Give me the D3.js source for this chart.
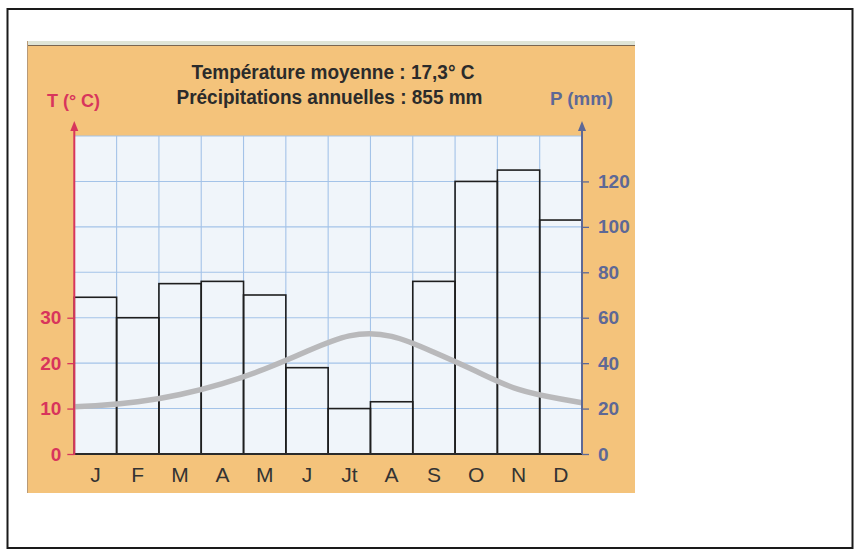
<!DOCTYPE html>
<html>
<head lang="fr">
    <meta charset="UTF-8">
    <title> Climogramme </title>
    <script type="text/javascript" src="https://cdn.jsdelivr.net/npm/d3@7/dist/d3.min.js"></script>
    <style>
        body { margin: 0; background: #fff; }
        text { font-family: "Liberation Sans", "Open Sans", sans-serif; }
    </style>
</head>
<body>
<div id="chart"></div>

<script>

    // données
    var months   = ["J", "F", "M", "A", "M", "J", "Jt", "A", "S", "O", "N", "D"];
    var precip   = [69, 60, 75, 76, 70, 38, 20, 23, 76, 120, 125, 103];        // mm
    var temp     = [10.6, 11.5, 13.1, 15.5, 18.7, 22.6, 26.0, 25.9, 22.4, 18.2, 14.2, 12.1]; // °C, milieu du mois
    var tEdges   = [10.4, 11.3];   // valeur de la courbe sur les deux axes
    var tTicks   = [0, 10, 20, 30];
    var pTicks   = [0, 20, 40, 60, 80, 100, 120];
    var titles   = ["Température moyenne : 17,3° C", "Précipitations annuelles : 855 mm"];

    var W = 861, H = 556;
    var x0 = 74.3, x1 = 582, yBase = 454, yTop = 136;

    var svg = d3.select("#chart").append("svg")
            .attr("width", W)
            .attr("height", H);

    // cadre extérieur
    svg.append("rect")
            .attr("x", 7.5).attr("y", 9)
            .attr("width", 845).attr("height", 539)
            .style("fill", "#fff")
            .style("stroke", "#1a1a1a")
            .style("stroke-width", 2);

    // fond orange
    svg.append("rect")
            .attr("x", 27).attr("y", 41).attr("width", 608).attr("height", 5)
            .style("fill", "#dfe4d6");
    svg.append("rect")
            .attr("x", 27).attr("y", 45).attr("width", 608).attr("height", 448)
            .style("fill", "#f4c37b");
    svg.append("line")
            .attr("x1", 27).attr("x2", 635).attr("y1", 45.5).attr("y2", 45.5)
            .style("stroke", "#7a6650").style("stroke-width", 1);
    svg.append("line")
            .attr("x1", 27.5).attr("x2", 27.5).attr("y1", 41).attr("y2", 493)
            .style("stroke", "#b89a78").style("stroke-width", 1);

    // scales
    var xPos = d3.scaleLinear().domain([0, 12]).range([x0, x1]);
    var xBand = d3.scaleBand().domain(d3.range(12)).range([x0, x1]).padding(0);
    var yP = d3.scaleLinear().domain([0, 140]).range([yBase, yTop]);
    var yT = d3.scaleLinear().domain([0, 70]).range([yBase, yTop]);

    // zone du graphique
    svg.append("rect")
            .attr("x", x0).attr("y", yTop)
            .attr("width", x1 - x0).attr("height", yBase - yTop)
            .style("fill", "#f0f5fa");

    // quadrillage
    var grid = svg.append("g").attr("class", "grid");
    grid.selectAll("line.h")
            .data(d3.range(20, 141, 20)).enter().append("line")
            .attr("x1", x0).attr("x2", x1)
            .attr("y1", function(d) { return yP(d); })
            .attr("y2", function(d) { return yP(d); })
            .style("stroke", "#a4c3e8").style("stroke-width", 1.1);
    grid.selectAll("line.v")
            .data(d3.range(1, 12)).enter().append("line")
            .attr("x1", function(d) { return xPos(d); })
            .attr("x2", function(d) { return xPos(d); })
            .attr("y1", yTop).attr("y2", yBase)
            .style("stroke", "#a4c3e8").style("stroke-width", 1.1);

    // barres de précipitations
    svg.append("g").selectAll("rect")
            .data(precip).enter().append("rect")
            .attr("x", function(d, i) { return xBand(i); })
            .attr("y", function(d) { return yP(d); })
            .attr("width", xBand.bandwidth())
            .attr("height", function(d) { return yBase - yP(d); })
            .style("fill", "none")
            .style("stroke", "#1e1e1e")
            .style("stroke-width", 1.6);

    // courbe des températures
    var pts = [[0, tEdges[0]]];
    temp.forEach(function(t, i) { pts.push([i + 0.5, t]); });
    pts.push([12, tEdges[1]]);

    var line = d3.line()
            .x(function(d) { return xPos(d[0]); })
            .y(function(d) { return yT(d[1]); })
            .curve(d3.curveNatural);

    svg.append("path")
            .datum(pts)
            .attr("d", line)
            .style("fill", "none")
            .style("stroke", "#b9b9bb")
            .style("stroke-width", 5.5)
            .style("stroke-linecap", "butt");

    // ligne de base
    svg.append("line")
            .attr("x1", x0).attr("x2", x1)
            .attr("y1", yBase).attr("y2", yBase)
            .style("stroke", "#2a2a2a").style("stroke-width", 2);

    // axe gauche (T)
    var red = "#d8355c";
    var axL = svg.append("g")
            .attr("transform", "translate(" + x0 + ",0)")
            .call(d3.axisLeft(yT).tickValues(tTicks).tickSize(7).tickPadding(6).tickSizeOuter(0));
    axL.select(".domain").remove();
    axL.selectAll(".tick line").style("stroke", red).style("stroke-width", 1.3);
    axL.selectAll(".tick text")
            .style("fill", red).style("font-size", "19px").style("font-weight", "bold")
            .style("font-family", "'Liberation Sans', sans-serif");

    svg.append("line")
            .attr("x1", x0).attr("x2", x0)
            .attr("y1", yBase + 1).attr("y2", yTop - 8)
            .style("stroke", red).style("stroke-width", 2);
    svg.append("path")
            .attr("d", "M" + x0 + "," + (yTop - 15) + " L" + (x0 - 4) + "," + (yTop - 5) + " L" + (x0 + 4) + "," + (yTop - 5) + "Z")
            .style("fill", red);

    // axe droit (P)
    var blue = "#5d6896";
    var axR = svg.append("g")
            .attr("transform", "translate(" + x1 + ",0)")
            .call(d3.axisRight(yP).tickValues(pTicks).tickSize(7).tickPadding(9).tickSizeOuter(0));
    axR.select(".domain").remove();
    axR.selectAll(".tick line").style("stroke", blue).style("stroke-width", 1.3);
    axR.selectAll(".tick text")
            .style("fill", blue).style("font-size", "19px").style("font-weight", "bold")
            .style("font-family", "'Liberation Sans', sans-serif");

    svg.append("line")
            .attr("x1", x1).attr("x2", x1)
            .attr("y1", yBase).attr("y2", yTop - 8)
            .style("stroke", blue).style("stroke-width", 2);
    svg.append("path")
            .attr("d", "M" + x1 + "," + (yTop - 15) + " L" + (x1 - 4) + "," + (yTop - 5) + " L" + (x1 + 4) + "," + (yTop - 5) + "Z")
            .style("fill", blue);

    // mois
    var axB = svg.append("g")
            .attr("transform", "translate(0," + yBase + ")")
            .call(d3.axisBottom(xBand).tickSize(0).tickFormat(function(i) { return months[i]; }));
    axB.select(".domain").remove();
    axB.selectAll(".tick text")
            .attr("y", 28).attr("dy", 0)
            .style("fill", "#333").style("font-size", "21px")
            .style("font-family", "'Liberation Sans', sans-serif");

    // titres
    svg.append("text")
            .attr("x", 191.5).attr("y", 78.5)
            .attr("textLength", 283).attr("lengthAdjust", "spacingAndGlyphs")
            .style("font-size", "20px").style("font-weight", "bold").style("fill", "#2b2b2b")
            .text(titles[0]);
    svg.append("text")
            .attr("x", 176.5).attr("y", 104)
            .attr("textLength", 306).attr("lengthAdjust", "spacingAndGlyphs")
            .style("font-size", "20px").style("font-weight", "bold").style("fill", "#2b2b2b")
            .text(titles[1]);

    // unités
    svg.append("text")
            .attr("x", 47).attr("y", 106.5)
            .attr("textLength", 53).attr("lengthAdjust", "spacingAndGlyphs")
            .style("font-size", "19px").style("font-weight", "bold").style("fill", red)
            .text("T (° C)");
    svg.append("text")
            .attr("x", 550).attr("y", 105)
            .attr("textLength", 63).attr("lengthAdjust", "spacingAndGlyphs")
            .style("font-size", "19px").style("font-weight", "bold").style("fill", blue)
            .text("P (mm)");

</script>
</body>
</html>
